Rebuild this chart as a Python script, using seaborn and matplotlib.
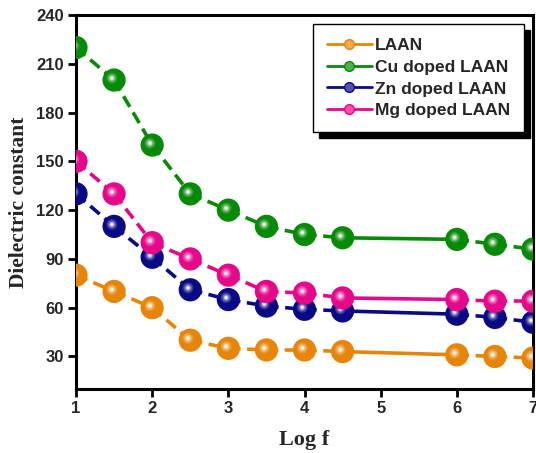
import numpy as np
import pandas as pd
import matplotlib
matplotlib.use("Agg")
import matplotlib.pyplot as plt
from matplotlib.lines import Line2D
from matplotlib.patches import Rectangle
from matplotlib.transforms import ScaledTranslation
import matplotlib.colors as mcolors
import seaborn as sns

log_f = [1, 1.5, 2, 2.5, 3, 3.5, 4, 4.5, 6, 6.5, 7]
laan = [80, 70, 60, 40, 35, 34, 34, 33, 31, 30, 29]
cu_laan = [220, 200, 160, 130, 120, 110, 105, 103, 102, 99, 96]
zn_laan = [130, 110, 91, 71, 65, 61, 59, 58, 56, 54, 51]
mg_laan = [150, 130, 100, 90, 80, 70, 69, 66, 65, 64, 64]
series_names = ["LAAN", "Cu doped LAAN", "Zn doped LAAN", "Mg doped LAAN"]
colors = ["#E6850A", "#078A07", "#0A0A85", "#E6088A"]
y_ticks = [30, 60, 90, 120, 150, 180, 210, 240]
x_ticks = [1, 2, 3, 4, 5, 6, 7]

sns.set_style("ticks")
plt.rcParams["font.family"] = ["Liberation Sans", "DejaVu Sans"]

frames = []
for name, vals in zip(series_names, [laan, cu_laan, zn_laan, mg_laan]):
    frames.append(pd.DataFrame({"x": log_f, "y": vals, "series": name}))
df = pd.concat(frames, ignore_index=True)
palette = dict(zip(series_names, colors))

fig = plt.figure(figsize=(5.36, 4.53), dpi=100)
ax = fig.add_axes([0.1418, 0.1413, 0.8526, 0.8256])

# dashed lines everywhere except the long 4.5 -> 6 stretch
for name in series_names:
    sub = df[df.series == name]
    for (a, b) in zip(sub.index[:-1], sub.index[1:]):
        seg = sub.loc[[a, b]]
        x0, x1 = seg.x.values
        sns.lineplot(data=seg, x="x", y="y", color=palette[name], lw=2.6,
                     ax=ax, legend=False, zorder=2)
        if not (x0 == 4.5 and x1 == 6):
            ax.lines[-1].set_dashes([3.4, 1.8])

def mix(c, f):
    r = np.array(mcolors.to_rgb(c))
    return tuple(r + (1 - r) * f)

shift = ax.transData + ScaledTranslation(-1.6 / 72, 1.4 / 72, fig.dpi_scale_trans)
layers = [(280, 0.0, False), (60, 0.18, True), (30, 0.4, True), (12, 0.7, True), (4, 0.95, True)]
for name in series_names:
    sub = df[df.series == name]
    for s, f, off in layers:
        sns.scatterplot(data=sub, x="x", y="y", color=mix(palette[name], f), s=s,
                        edgecolor="none", linewidth=0, ax=ax, legend=False, zorder=3)
        if off:
            ax.collections[-1].set_offset_transform(shift)

ax.set_xlim(1, 7)
ax.set_ylim(10, 240)
ax.set_xticks(x_ticks)
ax.set_yticks(y_ticks)
ax.set_xticklabels([str(t) for t in x_ticks], fontweight="bold", fontsize=12)
ax.set_yticklabels([str(t) for t in y_ticks], fontweight="bold", fontsize=12)
ax.tick_params(axis="both", direction="out", length=6, width=2, pad=3, color="black")
for sp in ax.spines.values():
    sp.set_linewidth(2.2)
    sp.set_color("black")
    sp.set_visible(True)

ax.set_xlabel("Log f", fontfamily=["Liberation Serif", "DejaVu Serif"], fontweight="bold",
              fontsize=16, labelpad=10)
ax.set_ylabel("Dielectric constant", fontfamily=["Liberation Serif", "DejaVu Serif"],
              fontweight="bold", fontsize=15.5, labelpad=5)

handles = [Line2D([0], [0], color=c, lw=2, marker="o", markersize=7,
                  markerfacecolor=mix(c, 0.3), markeredgecolor=c) for c in colors]
leg = ax.legend(handles, series_names, loc="upper right", bbox_to_anchor=(0.981, 0.976),
                frameon=True, fancybox=False, framealpha=1, edgecolor="black",
                prop={"weight": "bold", "size": 12.5}, handlelength=2.6,
                handletextpad=0.2, labelspacing=0.38, borderpad=0.8, borderaxespad=0)
leg.get_frame().set_linewidth(1.0)
leg.set_zorder(6)

fig.canvas.draw()
bb = leg.get_window_extent()
shadow = Rectangle((bb.x0 + 6, bb.y0 - 6), bb.width, bb.height, transform=None,
                   facecolor="black", edgecolor="black", zorder=5.5, clip_on=False)
ax.add_artist(shadow)

fig.savefig("out.png", dpi=100)
